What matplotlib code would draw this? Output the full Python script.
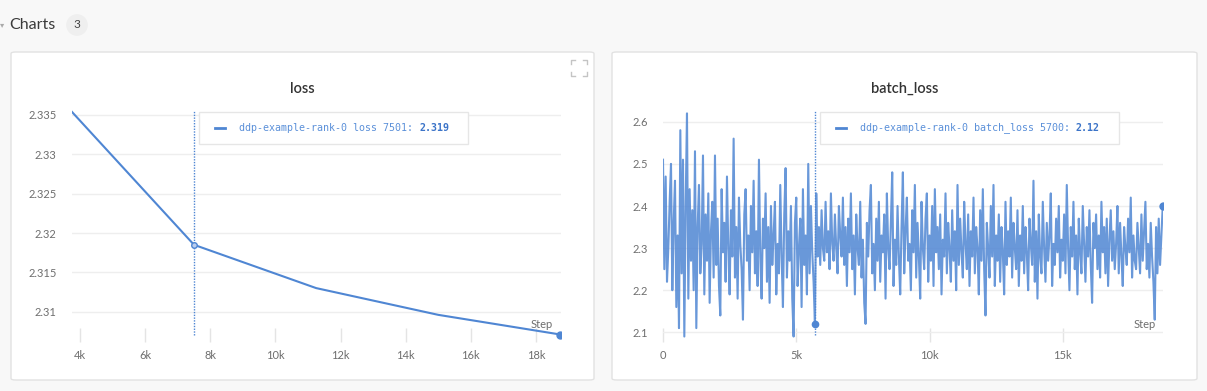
import matplotlib.pyplot as plt
import numpy as np
from matplotlib.patches import FancyBboxPatch
from matplotlib.lines import Line2D

plt.rcParams['font.family'] = ['Lato', 'DejaVu Sans']

# loss panel data
loss_steps = [3750, 7501, 11251, 15001, 18751]
loss_vals = [2.3354, 2.3185, 2.3130, 2.3096, 2.3071]
loss_yticks = [2.31, 2.315, 2.32, 2.325, 2.33, 2.335]
loss_xticks = [4000, 6000, 8000, 10000, 12000, 14000, 16000, 18000]
loss_hover = (7501, 2.319)

# batch_loss panel data (one value every 50 steps)
batch_step = 50
batch_vals = [
    2.51, 2.25, 2.47, 2.22, 2.30, 2.41, 2.50, 2.20, 2.36, 2.46, 2.16, 2.33, 2.11, 2.58, 2.24, 2.51, 2.09, 2.40, 2.62, 2.18,
    2.44, 2.27, 2.39, 2.20, 2.53, 2.11, 2.35, 2.45, 2.24, 2.31, 2.52, 2.19, 2.38, 2.27, 2.43, 2.17, 2.34, 2.41, 2.23, 2.52,
    2.26, 2.37, 2.21, 2.14, 2.44, 2.29, 2.36, 2.22, 2.47, 2.30, 2.19, 2.39, 2.28, 2.56, 2.23, 2.35, 2.18, 2.42, 2.31, 2.25,
    2.13, 2.38, 2.44, 2.27, 2.33, 2.20, 2.40, 2.29, 2.46, 2.24, 2.34, 2.21, 2.51, 2.28, 2.18, 2.37, 2.30, 2.43, 2.22, 2.35,
    2.17, 2.40, 2.26, 2.33, 2.41, 2.19, 2.31, 2.24, 2.45, 2.28, 2.16, 2.38, 2.49, 2.23, 2.34, 2.27, 2.40, 2.18, 2.09, 2.36,
    2.42, 2.21, 2.30, 2.37, 2.16, 2.44, 2.26, 2.33, 2.19, 2.50, 2.24, 2.40, 2.29, 2.22, 2.12, 2.43, 2.28, 2.35, 2.26, 2.39,
    2.30, 2.27, 2.41, 2.29, 2.34, 2.25, 2.43, 2.31, 2.27, 2.38, 2.30, 2.24, 2.40, 2.33, 2.28, 2.42, 2.26, 2.35, 2.21, 2.37,
    2.29, 2.43, 2.25, 2.33, 2.19, 2.38, 2.30, 2.26, 2.41, 2.23, 2.32, 2.17, 2.12, 2.36, 2.28, 2.39, 2.45, 2.24, 2.31, 2.20,
    2.37, 2.27, 2.41, 2.22, 2.33, 2.29, 2.38, 2.18, 2.43, 2.30, 2.25, 2.36, 2.48, 2.21, 2.32, 2.26, 2.40, 2.28, 2.19, 2.35,
    2.48, 2.24, 2.34, 2.42, 2.27, 2.31, 2.20, 2.39, 2.29, 2.45, 2.23, 2.36, 2.28, 2.18, 2.41, 2.30, 2.25, 2.37, 2.43, 2.22,
    2.33, 2.27, 2.40, 2.21, 2.44, 2.29, 2.35, 2.25, 2.38, 2.19, 2.32, 2.28, 2.43, 2.24, 2.36, 2.30, 2.22, 2.39, 2.27, 2.34,
    2.20, 2.45, 2.26, 2.37, 2.29, 2.23, 2.41, 2.31, 2.25, 2.38, 2.21, 2.34, 2.28, 2.42, 2.24, 2.35, 2.30, 2.19, 2.39, 2.27,
    2.44, 2.25, 2.14, 2.36, 2.30, 2.23, 2.40, 2.28, 2.45, 2.21, 2.33, 2.27, 2.38, 2.22, 2.35, 2.29, 2.19, 2.41, 2.26, 2.34,
    2.28, 2.42, 2.23, 2.36, 2.30, 2.25, 2.39, 2.21, 2.33, 2.27, 2.40, 2.24, 2.35, 2.29, 2.20, 2.37, 2.31, 2.26, 2.46, 2.22,
    2.34, 2.18, 2.38, 2.28, 2.24, 2.41, 2.30, 2.22, 2.36, 2.27, 2.33, 2.43, 2.21, 2.31, 2.26, 2.37, 2.29, 2.40, 2.23, 2.32,
    2.27, 2.38, 2.24, 2.45, 2.30, 2.20, 2.35, 2.28, 2.41, 2.25, 2.33, 2.19, 2.37, 2.29, 2.24, 2.40, 2.31, 2.22, 2.35, 2.28,
    2.39, 2.26, 2.17, 2.36, 2.30, 2.38, 2.25, 2.33, 2.23, 2.41, 2.29, 2.35, 2.24, 2.37, 2.21, 2.32, 2.39, 2.27, 2.34, 2.25,
    2.31, 2.40, 2.24, 2.36, 2.28, 2.21, 2.35, 2.30, 2.26, 2.37, 2.29, 2.42, 2.23, 2.33, 2.27, 2.25, 2.36, 2.30, 2.24, 2.38,
    2.27, 2.34, 2.41, 2.25, 2.31, 2.23, 2.36, 2.28, 2.22, 2.13, 2.35, 2.24, 2.37, 2.26, 2.33, 2.40,
]
batch_steps = np.arange(len(batch_vals)) * batch_step
batch_yticks = [2.1, 2.2, 2.3, 2.4, 2.5, 2.6]
batch_xticks = [0, 5000, 10000, 15000]
batch_hover = (5700, 2.12)

BLUE = '#4f86d3'
W, H = 1207, 391


def fx(px):
    return px / W


def fy(py):
    return 1 - py / H


fig = plt.figure(figsize=(W / 100, H / 100), dpi=100)
fig.patch.set_facecolor('#f8f8f8')

# header
fig.text(fx(9), fy(25), 'Charts', fontsize=11.5, color='#3a3a3a', va='center')
fig.text(fx(77), fy(25), '3', fontsize=8.5, color='#444444', ha='center', va='center',
         bbox=dict(boxstyle='circle,pad=0.45', fc='#efefef', ec='none'))
fig.text(fx(0), fy(25), '\u25be', fontsize=6, color='#aaaaaa', va='center', family='DejaVu Sans')

# panels
for x0, x1 in [(11, 594), (612, 1197)]:
    fig.patches.append(FancyBboxPatch((fx(x0), fy(380)), fx(x1 - x0), (380 - 52) / H,
                                      boxstyle='round,pad=0,rounding_size=0.004',
                                      transform=fig.transFigure, fc='white', ec='#e2e2e2',
                                      lw=1, zorder=-5))

# expand icon on left panel
for cx, cy, dx, dy in [(571, 60, 1, 1), (587, 60, -1, 1), (571, 76, 1, -1), (587, 76, -1, -1)]:
    fig.lines.append(Line2D([fx(cx), fx(cx), fx(cx + 4 * dx)], [fy(cy + 4 * dy), fy(cy), fy(cy)],
                            transform=fig.transFigure, color='#c4c4c4', lw=1))


def style_axes(ax, yticks):
    ax.patch.set_alpha(0)
    for s in ax.spines.values():
        s.set_visible(False)
    ax.set_yticks(yticks)
    ax.set_yticklabels([('%g' % v) for v in yticks])
    ax.grid(axis='y', color='#eeeeee', lw=1)
    ax.set_axisbelow(True)
    ax.tick_params(axis='y', length=0, pad=11, labelsize=8, labelcolor='#6e6e6e')
    ax.tick_params(axis='x', direction='in', length=10, width=1, color='#e4e4e4',
                   pad=6, labelsize=8, labelcolor='#6e6e6e')


def k_labels(ticks):
    return ['0' if t == 0 else '%dk' % (t // 1000) for t in ticks]


# loss axes
ax1 = fig.add_axes([fx(72), fy(342), fx(561 - 72), (342 - 110) / H])
style_axes(ax1, loss_yticks)
ax1.set_xlim(3754, 18770)
ax1.set_ylim(2.30615, 2.33563)
ax1.set_xticks(loss_xticks)
ax1.set_xticklabels(k_labels(loss_xticks))
ax1.plot(loss_steps, loss_vals, color=BLUE, lw=1.5, solid_joinstyle='round')
ax1.axvline(loss_hover[0], ymin=0.03, ymax=1, color=BLUE, lw=1, ls=(0, (1, 1)))
ax1.plot([loss_steps[1]], [loss_vals[1]], 'o', ms=4, color=BLUE, mfc='#b9cdef', mew=1)
ax1.plot([loss_steps[-1]], [loss_vals[-1]], 'o', ms=5, color=BLUE)
fig.text(fx(302), fy(89), 'loss', fontsize=10.5, fontweight='semibold', color='#333333',
         ha='center', va='center')
fig.text(fx(542), fy(325), 'Step', fontsize=8, color='#6e6e6e', ha='center', va='center')

# batch_loss axes
ax2 = fig.add_axes([fx(663), fy(342), fx(1163 - 663), (342 - 110) / H])
style_axes(ax2, batch_yticks)
ax2.set_xlim(0, 18760)
ax2.set_ylim(2.077, 2.628)
ax2.set_xticks(batch_xticks)
ax2.set_xticklabels(k_labels(batch_xticks))
ax2.plot(batch_steps, batch_vals, color=BLUE, lw=1.5, alpha=0.85)
ax2.axvline(batch_hover[0], ymin=0.03, ymax=1, color=BLUE, lw=1, ls=(0, (1, 1)))
ax2.plot([batch_hover[0]], [batch_hover[1]], 'o', ms=4.5, color=BLUE)
ax2.plot([batch_steps[-1]], [batch_vals[-1]], 'o', ms=5, color=BLUE)
fig.text(fx(905), fy(89), 'batch_loss', fontsize=10.5, fontweight='semibold', color='#333333',
         ha='center', va='center')
fig.text(fx(1145), fy(325), 'Step', fontsize=8, color='#6e6e6e', ha='center', va='center')

# hover legends
renderer = fig.canvas.get_renderer()
for (bx0, bx1), label, value in [((199, 468), 'ddp-example-rank-0 loss %d: ' % loss_hover[0], '%g' % loss_hover[1]),
                                 ((820, 1119), 'ddp-example-rank-0 batch_loss %d: ' % batch_hover[0], '%g' % batch_hover[1])]:
    fig.patches.append(FancyBboxPatch((fx(bx0), fy(144)), fx(bx1 - bx0), (144 - 112) / H,
                                      boxstyle='square,pad=0', transform=fig.transFigure,
                                      fc='white', ec='#e6e6e6', lw=1, zorder=4))
    fig.lines.append(Line2D([fx(bx0 + 16), fx(bx0 + 26)], [fy(128), fy(128)],
                            transform=fig.transFigure, color=BLUE, lw=2, zorder=5))
    t = fig.text(fx(bx0 + 40), fy(128), label, fontsize=7.2, family='DejaVu Sans Mono',
                 color='#5b90d9', va='center', zorder=5)
    ext = t.get_window_extent(renderer)
    fig.text(ext.x1 / W, fy(128), value, fontsize=7.2, family='DejaVu Sans Mono',
             fontweight='bold', color='#3c74c8', va='center', zorder=5)

fig.savefig('out.png', dpi=100, facecolor=fig.get_facecolor())
